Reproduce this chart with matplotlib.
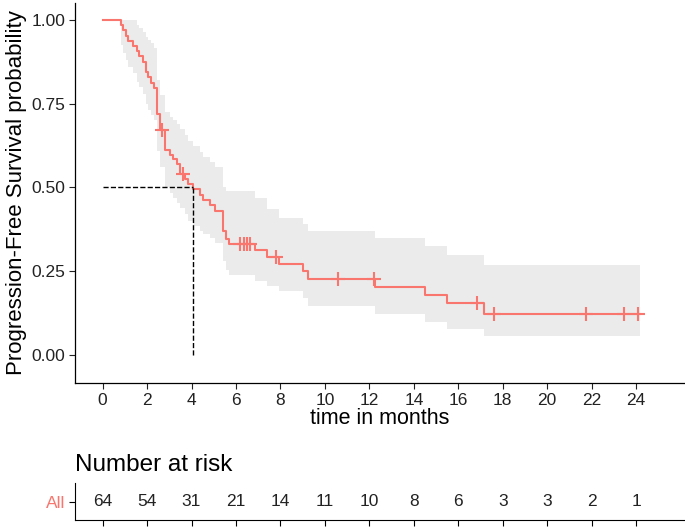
import numpy as np
import matplotlib.pyplot as plt

plt.rcParams['font.family'] = ['Liberation Sans', 'DejaVu Sans']

# Kaplan-Meier steps
step_times = [0.00, 0.83, 0.93, 1.04, 1.16, 1.38, 1.56, 1.64, 1.83, 1.95,
              2.06, 2.20, 2.32, 2.46, 2.60, 2.81, 3.03, 3.18, 3.33, 3.48,
              3.70, 3.85, 4.07, 4.38, 4.53, 4.83, 5.05, 5.43, 5.55, 5.70,
              6.86, 7.41, 7.95, 9.03, 9.26, 12.25, 14.50, 15.50, 17.16]
surv = [1.000, 0.984, 0.969, 0.953, 0.938, 0.922, 0.906, 0.891, 0.875, 0.844,
        0.828, 0.812, 0.797, 0.719, 0.672, 0.613, 0.598, 0.585, 0.570, 0.540,
        0.525, 0.510, 0.494, 0.478, 0.462, 0.447, 0.431, 0.370, 0.345, 0.330,
        0.313, 0.294, 0.273, 0.251, 0.228, 0.204, 0.180, 0.155, 0.122]
lower = [1.000, 0.925, 0.900, 0.880, 0.860, 0.840, 0.815, 0.800, 0.780, 0.750,
         0.730, 0.715, 0.700, 0.610, 0.560, 0.500, 0.485, 0.470, 0.455, 0.440,
         0.420, 0.400, 0.385, 0.370, 0.360, 0.350, 0.335, 0.280, 0.255, 0.240,
         0.220, 0.205, 0.190, 0.170, 0.147, 0.122, 0.099, 0.079, 0.057]
upper = [1.000, 1.000, 1.000, 1.000, 1.000, 1.000, 0.985, 0.975, 0.965, 0.950,
         0.940, 0.930, 0.915, 0.820, 0.775, 0.725, 0.710, 0.700, 0.690, 0.675,
         0.655, 0.640, 0.625, 0.605, 0.590, 0.575, 0.560, 0.500, 0.490, 0.490,
         0.470, 0.435, 0.410, 0.390, 0.370, 0.350, 0.325, 0.300, 0.270]
end_time = 24.15

censor_times = [2.66, 3.60, 6.20, 6.35, 6.50, 6.65, 7.80, 10.60, 12.20,
                16.85, 17.60, 21.75, 23.45, 24.10]

median_time = 4.07

risk_times = [0, 2, 4, 6, 8, 10, 12, 14, 16, 18, 20, 22, 24]
risk_counts = [64, 54, 31, 21, 14, 11, 10, 8, 6, 3, 3, 2, 1]

col = '#F8766D'

t = np.array(step_times + [end_time])
s = np.array(surv + [surv[-1]])
lo = np.array(lower + [lower[-1]])
up = np.array(upper + [upper[-1]])

fig = plt.figure(figsize=(6.85, 5.27), dpi=100)
ax = fig.add_axes([0.1095, 0.2732, 0.889, 0.7211])

ax.fill_between(t, lo, up, step='post', color='#EBEBEB', lw=0)
ax.step(t, s, where='post', color=col, lw=1.5)

idx = np.searchsorted(step_times, censor_times, side='right') - 1
ax.plot(censor_times, np.array(surv)[idx], '+', color=col, ms=10.5, mew=1.5)

ax.plot([0, median_time], [0.5, 0.5], ls='--', color='black', lw=1.0)
ax.plot([median_time, median_time], [0, 0.5], ls='--', color='black', lw=1.0)

ax.set_xlim(-1.24, 26.15)
ax.set_ylim(-0.083, 1.05)
ax.set_xticks(risk_times)
ax.set_yticks([0, 0.25, 0.5, 0.75, 1.0])
ax.set_yticklabels(['0.00', '0.25', '0.50', '0.75', '1.00'])
ax.set_xlabel('time in months', fontsize=15.5, labelpad=0)
ax.set_ylabel('Progression-Free Survival probability', fontsize=16, labelpad=3)
ax.tick_params(labelsize=12.5, length=4, width=0.8, colors='#222222',
               labelcolor='#222222', pad=3)
for side in ['top', 'right']:
    ax.spines[side].set_visible(False)
for side in ['left', 'bottom']:
    ax.spines[side].set_linewidth(0.9)

# risk table
rt = fig.add_axes([0.1095, 0.0133, 0.889, 0.070])
rt.set_xlim(ax.get_xlim())
rt.set_ylim(0, 1)
for x, n in zip(risk_times, risk_counts):
    rt.text(x, 0.5, str(n), ha='center', va='center', fontsize=12.5,
            color='#222222')
rt.set_xticks(risk_times)
rt.set_xticklabels([])
rt.set_yticks([0.5])
rt.set_yticklabels(['All'], color=col, fontsize=12.5)
rt.tick_params(length=4, width=0.8, pad=3)
for side in ['top', 'right']:
    rt.spines[side].set_visible(False)
rt.set_title('Number at risk', loc='left', fontsize=17.5, pad=9, x=0.0)

fig.savefig('out.png', dpi=100)
